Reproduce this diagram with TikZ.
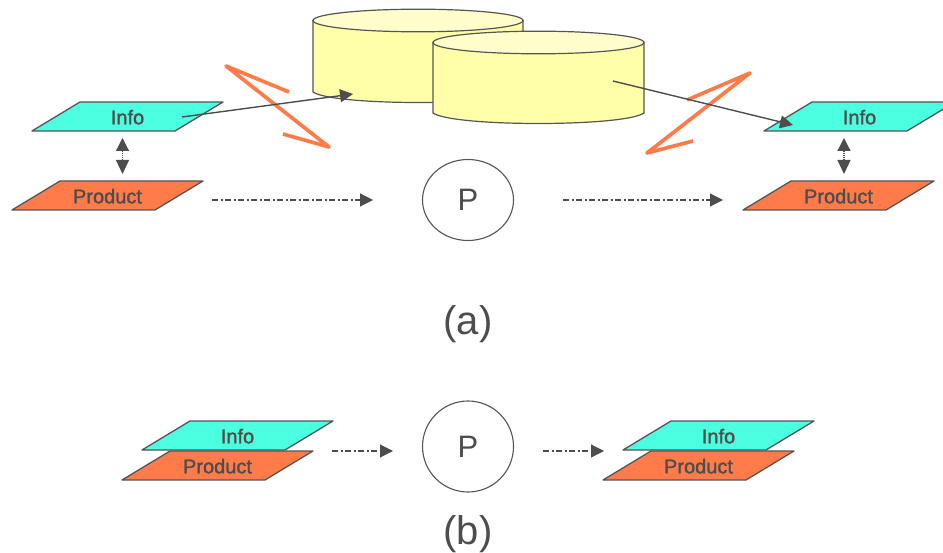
\documentclass[tikz,border=0pt]{standalone}
\usepackage{fontspec}
\setmainfont{Liberation Sans}
\newfontfamily\heavyfont{Liberation Sans}[FakeBold=1.5]
\usetikzlibrary{arrows.meta,shapes.geometric}
\definecolor{ink}{HTML}{4D4D4D}
\definecolor{edgegray}{HTML}{555555}
\definecolor{infoc}{HTML}{4DFFE1}
\definecolor{prodc}{HTML}{FF7C4A}
\definecolor{cylside}{HTML}{FFFFAA}
\definecolor{cyltop}{HTML}{FFFFCC}
\tikzset{
  x=1pt,y=-1pt,
  plane/.style={draw=edgegray,line width=1.3pt,line join=round},
  lbl/.style={text=ink,font=\heavyfont\fontsize{20}{20}\selectfont,inner sep=0pt},
  big/.style={text=ink,font=\fontsize{40}{40}\selectfont,inner sep=0pt},
  proc/.style={ellipse,draw=edgegray,line width=1.1pt,fill=white,text=ink,inner sep=0pt,font=\fontsize{31}{31}\selectfont},
  tip/.style={-{Triangle[length=13pt,width=13pt]}},
  flow/.style={tip,draw=ink,line width=1.15pt,dash pattern=on 6pt off 2.5pt on 2pt off 2.5pt},
  feed/.style={tip,draw=ink,line width=1.4pt},
  link/.style={{Triangle[length=14pt,width=13pt]}-{Triangle[length=13pt,width=13pt]},draw=ink,line width=1.2pt,dash pattern=on 1pt off 1pt},
  zig/.style={draw=prodc,line width=3.7pt,line join=round,line cap=butt},
  cylbody/.style={draw=edgegray,line width=1.2pt,fill=cylside},
  cyllid/.style={draw=edgegray,line width=1.2pt,fill=cyltop}
}
% #1 name, #2 left x, #3 bottom y, #4 fill, #5 text, #6 width extension
\newcommand{\plane}[6]{%
  \path[plane,fill=#4] (#2,#3) -- ++(48,-29) -- ++(#6,0) -- ++(-48,29) -- cycle;
  \node[lbl] (#1) at ({#2+24+#6/2},{#3-13.8}) {#5};
}
\newcommand{\cyl}[4]{% #1 left, #2 right, #3 lid centre y, #4 side end y
  \path[cylbody] (#1,#3) -- (#1,#4)
     .. controls (#1+20,#4+14) and (#2-20,#4+14) .. (#2,#4) -- (#2,#3) -- cycle;
  \path[cyllid] ({(#1+#2)/2},#3) ellipse [x radius={(#2-#1)/2},y radius=11.3];
}
\begin{document}
\begin{tikzpicture}
\useasboundingbox (0,0) rectangle (943,553);
\clip (0,0) rectangle (943,553);

\cyl{313}{523}{20.5}{92}
\cyl{433}{644}{42.5}{113}

\plane{infoL}{32}{131}{infoc}{Info}{143}
\plane{prodL}{12}{210}{prodc}{Product}{143}
\plane{infoR}{764}{131}{infoc}{Info}{143}
\plane{prodR}{743}{210}{prodc}{Product}{143}

\node[proc,minimum width=91pt,minimum height=81pt] (pA) at (468,200) {P};
\node[proc,minimum width=91pt,minimum height=91pt] (pB) at (468,446.5) {P};

\draw[zig] (289,92) -- (226,66) -- (329,147) -- (283,134);
\draw[zig] (687,100) -- (750,73) -- (647,153) -- (693,141);

\coordinate (fa) at (182,117); \coordinate (fb) at (353,94);
\coordinate (ga) at (613,81);  \coordinate (gb) at (793,125);
\draw[feed] (fa) -- (fb);
\draw[feed] (ga) -- (gb);

\coordinate (la) at (122.5,174); \coordinate (lb) at (122.5,138);
\draw[link] (la) -- (lb);
\coordinate (ra) at (844,174); \coordinate (rb) at (844,138);
\draw[link] (ra) -- (rb);

\coordinate (a1) at (212,200); \coordinate (a2) at (373,200);
\coordinate (a3) at (563,200); \coordinate (a4) at (723,200);
\draw[flow] (a1) -- (a2);
\draw[flow] (a3) -- (a4);

\plane{prodBL}{122}{480}{prodc}{Product}{143}
\plane{infoBL}{142}{450}{infoc}{Info}{143}
\plane{prodBR}{603}{480}{prodc}{Product}{143}
\plane{infoBR}{623}{450}{infoc}{Info}{143}

\coordinate (b1) at (332,451); \coordinate (b2) at (393,451);
\coordinate (b3) at (543,451); \coordinate (b4) at (604,451);
\draw[flow] (b1) -- (b2);
\draw[flow] (b3) -- (b4);

\node[big] (capA) at (468,324) {(a)};
\node[big] (capB) at (468,534.5) {(b)};
\end{tikzpicture}
\end{document}
